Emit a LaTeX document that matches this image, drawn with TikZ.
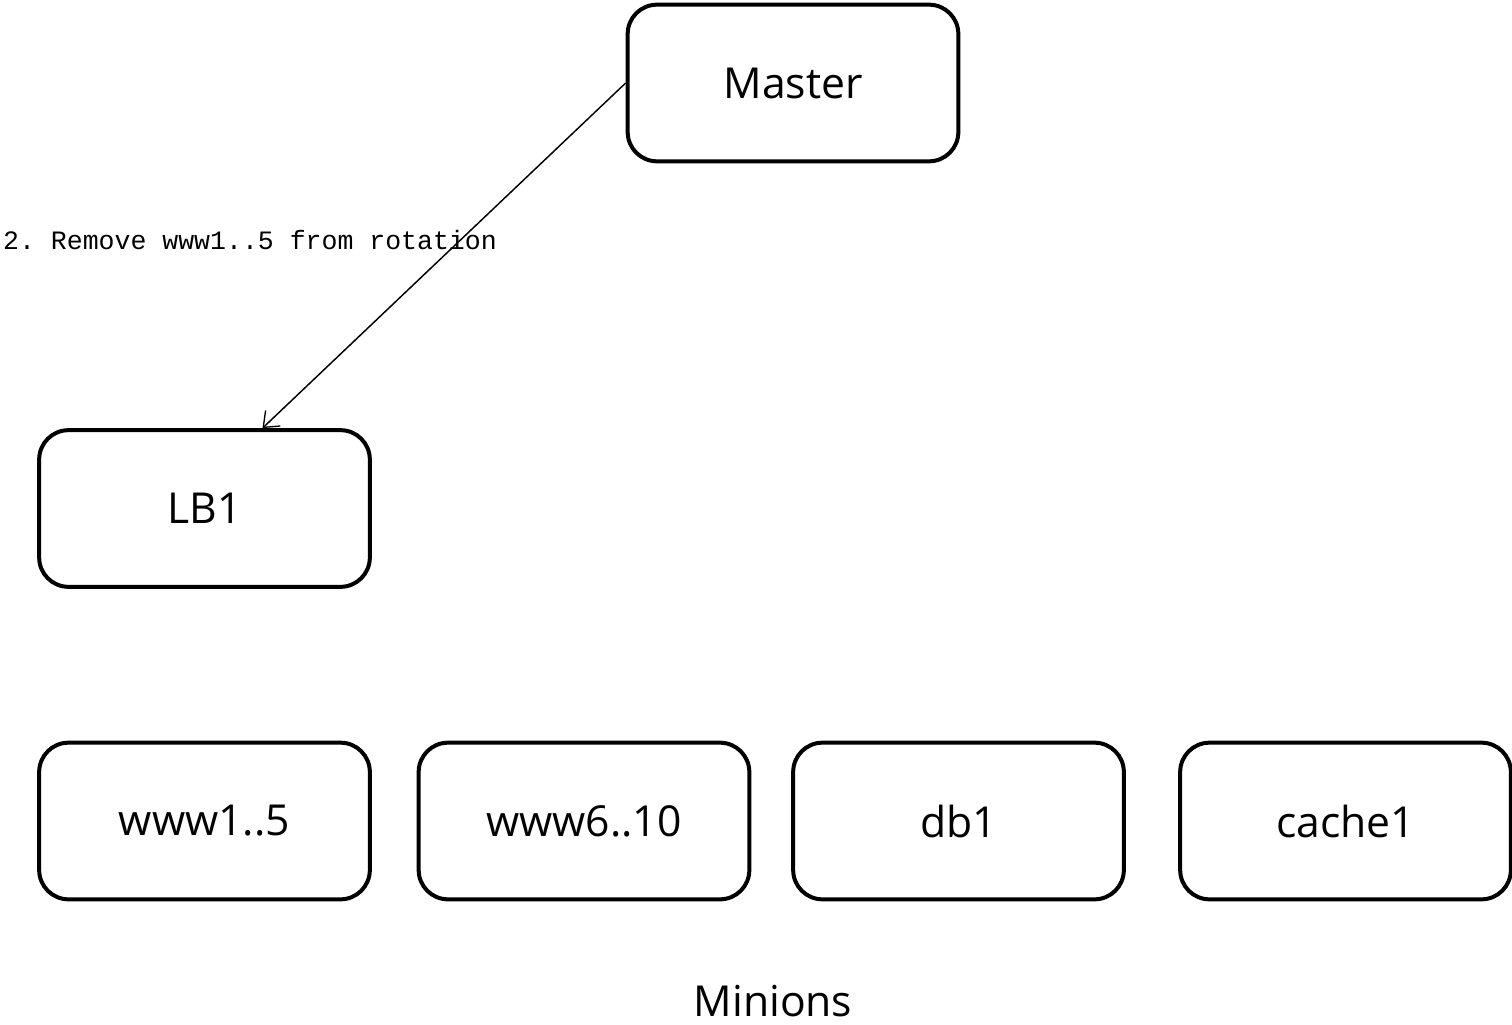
\documentclass[tikz,border=0pt]{standalone}
\usepackage{fontspec}
\setmainfont{Open Sans}
\newfontfamily\labelmono{Liberation Mono}
\usetikzlibrary{arrows.meta}
\frenchspacing
\begin{document}
\begin{tikzpicture}[x=0.75pt,y=-0.75pt,
  host/.style={draw=black, line width=3pt, rounded corners=22pt,
    minimum width=248pt, minimum height=117.5pt, inner sep=0pt,
    font=\fontsize{32}{38}\selectfont},
  msg/.style={-{Straight Barb[length=10pt,width=16pt,line width=1pt]}, line width=1.1pt},
  note/.style={font=\labelmono\fontsize{19.9}{23}\selectfont, inner sep=0pt}]
\useasboundingbox (0,0) rectangle (1512,1024);
% salt master and load balancer
\node[host] (master) at (793,83) {Master};
\node[host] (lb1) at (204.5,508.5) {LB1};
% minion groups
\node[host] (www1) at (204.5,821) {www1..5};
\node[host] (www6) at (584,821) {www6..10};
\node[host] (db1) at (958.5,821) {db1};
\node[host] (cache1) at (1345.5,821) {cache1};
\node[font=\fontsize{32}{38}\selectfont, inner sep=0pt, anchor=base] (minions) at (773,1016) {Minions};
% command sent from the master
\draw[msg] (master.west) -- ([xshift=43.5pt]lb1.north);
\node[note] (step2) at (250,240) {2. Remove www1..5 from rotation};
\end{tikzpicture}
\end{document}
